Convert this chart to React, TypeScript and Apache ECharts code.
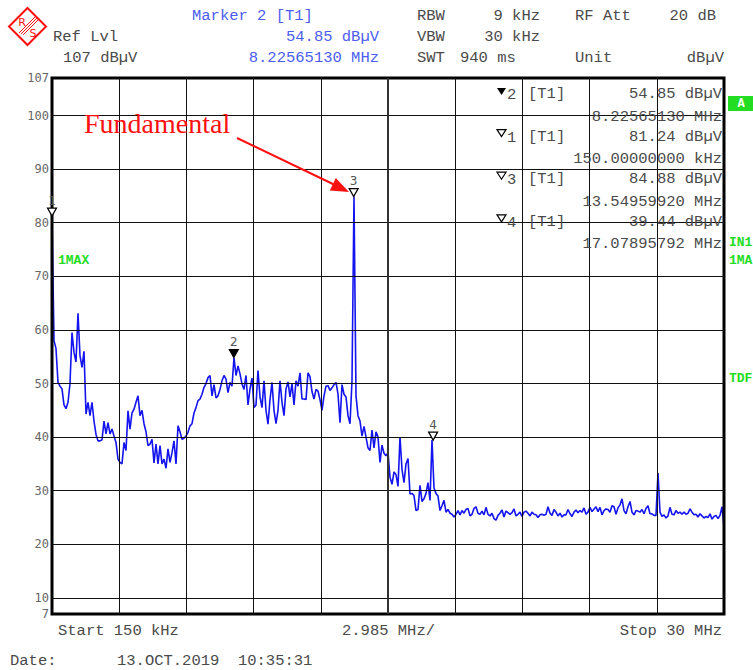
import React, { useEffect, useRef } from "react";
import * as echarts from "echarts";

// ---- axis / sweep settings ----
const START_MHZ = 0.15;
const STOP_MHZ = 30;
const REF_LEVEL = 107;
const BOTTOM_LEVEL = 7;
const Y_TICK_LABELS = [7, 10, 20, 30, 40, 50, 60, 70, 80, 90, 100, 107];
const H_GRID_LEVELS = [10, 20, 30, 40, 50, 60, 70, 80, 90, 100];
const V_GRID_DIVS = [1, 2, 3, 4, 5, 6, 7, 8, 9];
const N_DIVS = 10;

// ---- trace (dBuV), one value per sweep point ----
const TRACE_DBUV = [
  81.24, 58, 56.5, 50.2, 49.5, 49, 46, 45.3, 46.5, 50,
  59.5, 55.8, 54, 63.1, 55.2, 53, 56, 44.3, 46.5, 44,
  46.5, 43, 40.5, 39.3, 39.3, 39.5, 43, 40.6, 42.7, 40.6,
  41.5, 40.2, 39, 35.9, 35.3, 35, 39, 37.5, 44.9, 41.5,
  44.5, 45.2, 46.5, 47.7, 44, 45, 42.5, 41, 38.4, 38.7,
  39.6, 35.2, 38.7, 35, 38.4, 35, 35.9, 34.2, 37.8, 35.3,
  37.1, 39.3, 35, 42.1, 41, 39.6, 39.8, 40.2, 40.9, 42.1,
  42.5, 44.5, 45.5, 46.8, 47.1, 48, 49.3, 50, 51.1, 51.5,
  47.7, 49.8, 47.3, 47.7, 48.9, 50.5, 51.5, 50.8, 48.3, 50.2,
  49.5, 54.85, 51.5, 53.3, 51.8, 49.9, 48.9, 51.5, 46, 49,
  51, 45.5, 46, 52.4, 47.5, 45.5, 50.5, 45, 42.4, 47,
  50.2, 45, 42.5, 45, 50.5, 46.5, 44, 49, 50.3, 47.5,
  50, 46, 50.5, 49.5, 52, 47.1, 47.1, 47, 52, 51.3,
  48.5, 47.1, 48.9, 48.6, 47, 45, 47.7, 49.5, 49.6, 48.7,
  49.2, 49.8, 50.2, 48, 42.7, 49.8, 48, 47.5, 44, 42.5,
  50.5, 84.88, 47.7, 44, 43, 40.2, 42, 40, 38, 37.5,
  41.3, 38, 41, 40, 35.3, 38.5, 37, 36.5, 37.1, 32.5,
  31.2, 33.5, 33, 30.8, 40, 34, 31.5, 35, 36, 29.4,
  29.5, 29.1, 26.3, 26.5, 31, 28, 28.5, 29.5, 31.5, 28.2,
  39.44, 30.5, 29.5, 29, 26.3, 27.2, 28.2, 26, 26.5, 25.8,
  25.6, 25.1, 25.6, 26.3, 25.5, 26.3, 25.8, 26.5, 26.7, 25.3,
  25.6, 26.7, 27, 25.8, 25.6, 26.2, 25.5, 26.9, 25.6, 25.3,
  25.8, 24.8, 24.5, 25.4, 25.8, 26.4, 25.1, 26.2, 25.9, 25.6,
  25.9, 26.6, 25.3, 25.6, 26, 25.2, 26, 26.2, 25.8, 25.3,
  26, 25.6, 25.5, 25, 25.5, 25.6, 25.4, 25.6, 27, 25.8,
  25.4, 26.5, 26, 25.3, 25.8, 25.1, 25.5, 25.5, 26.5, 25.7,
  25.2, 26, 26.4, 25.9, 26.3, 26, 26.8, 25.6, 26, 26.9,
  26.1, 26.6, 27, 26.1, 26.9, 25.5, 26.3, 26.6, 26.5, 26,
  27.2, 27, 25.6, 26.8, 27.35, 28.5, 26.3, 25.7, 27, 28,
  26, 25.5, 26.3, 26.2, 26, 26.5, 25.7, 26.7, 27.2, 25.7,
  25.7, 25.4, 25.4, 33.3, 26, 25.2, 25.5, 24.9, 25.3, 26.9,
  25.6, 25.5, 26.3, 25.8, 26, 25.6, 26, 25.6, 25.8, 26.6,
  26, 25.5, 25.6, 25.1, 25.7, 25.3, 24.9, 25.2, 25, 25.7,
  24.7, 25.2, 25.4, 24.8, 25.4, 27, 23.2,
];

// ---- markers ----
const MARKER_NAMES = ["1", "2", "3", "4"];
const MARKER_FREQ_MHZ = [0.15, 8.2256513, 13.5495992, 17.07895792];
const MARKER_LEVEL_DBUV = [81.24, 54.85, 84.88, 39.44];
const MARKER_ACTIVE = [false, true, false, false];

// ---- marker table texts ----
const TABLE_ORDER = [1, 0, 2, 3];
const TABLE_LEVEL_TEXT = ["81.24 dBµV", "54.85 dBµV", "84.88 dBµV", "39.44 dBµV"];
const TABLE_FREQ_TEXT = ["150.00000000 kHz", "8.22565130 MHz", "13.54959920 MHz", "17.07895792 MHz"];

const MONO = '"Liberation Mono", "DejaVu Sans Mono", monospace';
const GRAY = "#4a4a4a";
const BLUE = "#4b5df0";
const GREEN = "#22dd22";

function txt(text: string, x: number, y: number, opt: any = {}) {
  return {
    type: "text",
    x,
    y,
    z: 100,
    silent: true,
    style: {
      text,
      fill: opt.fill || GRAY,
      font: opt.font || `15.5px ${MONO}`,
      align: opt.align || "left",
      verticalAlign: "middle",
    },
  };
}

export default function App() {
  const ref = useRef<HTMLDivElement>(null);

  useEffect(() => {
    document.body.style.margin = "0";
    if (!ref.current) return;
    const chart = echarts.init(ref.current, null, { renderer: "svg" });

    const n = TRACE_DBUV.length;
    const step = (STOP_MHZ - START_MHZ) / (n - 1);
    const traceData = TRACE_DBUV.map((v, i) => [START_MHZ + i * step, v]);
    const divW = (STOP_MHZ - START_MHZ) / N_DIVS;

    const gridLines: any[] = [
      ...H_GRID_LEVELS.map((l) => ({ yAxis: l })),
      ...V_GRID_DIVS.map((k) => ({
        xAxis: START_MHZ + k * divW,
        lineStyle: k === 5 ? { width: 2, color: "#333" } : undefined,
      })),
    ];

    const graphics: any[] = [];
    // logo
    graphics.push({
      type: "polygon",
      z: 100,
      silent: true,
      shape: { points: [[27.5, 8], [46, 26.5], [27.5, 45], [9, 26.5]] },
      style: { fill: "#fff", stroke: "#ff1010", lineWidth: 2 },
    });
    [0, 3, 6].forEach((o) => {
      graphics.push({
        type: "line",
        z: 100,
        silent: true,
        shape: { x1: 19 + o * 0.7, y1: 33 - o * 0.7 + o, x2: 35 + o * 0.7, y2: 17 - o * 0.7 + o },
        style: { stroke: "#ff1010", lineWidth: 1 },
      });
    });
    graphics.push(txt("R", 22, 22, { fill: "#ff1010", font: '11px "DejaVu Sans", sans-serif', align: "center" }));
    graphics.push(txt("S", 33, 33, { fill: "#ff1010", font: '11px "DejaVu Sans", sans-serif', align: "center" }));

    // header
    graphics.push(txt("Marker 2 [T1]", 192, 16, { fill: BLUE }));
    graphics.push(txt("RBW", 417, 16));
    graphics.push(txt("9 kHz", 540, 16, { align: "right" }));
    graphics.push(txt("RF Att", 575, 16));
    graphics.push(txt("20 dB", 716, 16, { align: "right" }));
    graphics.push(txt("Ref Lvl", 53, 37));
    graphics.push(txt("54.85 dBµV", 379, 37, { fill: BLUE, align: "right" }));
    graphics.push(txt("VBW", 417, 37));
    graphics.push(txt("30 kHz", 540, 37, { align: "right" }));
    graphics.push(txt("107 dBµV", 63, 58));
    graphics.push(txt("8.22565130 MHz", 379, 58, { fill: BLUE, align: "right" }));
    graphics.push(txt("SWT", 417, 58));
    graphics.push(txt("940 ms", 460, 58));
    graphics.push(txt("Unit", 575, 58));
    graphics.push(txt("dBµV", 724, 58, { align: "right" }));

    // marker table
    const rowY0 = 94;
    const rowStep = 42.6;
    TABLE_ORDER.forEach((m, r) => {
      const cy = rowY0 + r * rowStep;
      const filled = MARKER_ACTIVE[m];
      graphics.push({
        type: "polygon",
        z: 100,
        silent: true,
        shape: filled
          ? { points: [[497, cy - 6], [506, cy - 6], [501.5, cy + 1]] }
          : { points: [[497, cy - 7], [506, cy - 7], [501.5, cy]] },
        style: filled ? { fill: "#000" } : { fill: "#fff", stroke: "#000", lineWidth: 1.2 },
      });
      graphics.push(txt(MARKER_NAMES[m], 507, cy + 1));
      graphics.push(txt("[T1]", 528, cy));
      graphics.push(txt(TABLE_LEVEL_TEXT[m], 722, cy, { align: "right" }));
      graphics.push(txt(TABLE_FREQ_TEXT[m], 722, cy + 22.5, { align: "right" }));
    });

    // right side status
    graphics.push({
      type: "rect",
      z: 100,
      silent: true,
      shape: { x: 728, y: 96, width: 26, height: 15 },
      style: { fill: GREEN },
    });
    graphics.push(txt("A", 741, 104, { fill: "#fff", font: `bold 12px ${MONO}`, align: "center" }));
    graphics.push(txt("IN1", 729, 242, { fill: GREEN, font: `bold 13px ${MONO}` }));
    graphics.push(txt("1MA", 729, 260, { fill: GREEN, font: `bold 13px ${MONO}` }));
    graphics.push(txt("TDF", 729, 378, { fill: GREEN, font: `bold 13px ${MONO}` }));
    graphics.push(txt("1MAX", 58, 260, { fill: GREEN, font: `bold 13px ${MONO}` }));

    // annotation
    graphics.push(txt("Fundamental", 84, 123, { fill: "#ff1010", font: '28px "Liberation Serif", serif' }));
    graphics.push({
      type: "line",
      z: 100,
      silent: true,
      shape: { x1: 237, y1: 138, x2: 336, y2: 185.5 },
      style: { stroke: "#ff1010", lineWidth: 2 },
    });
    graphics.push({
      type: "polygon",
      z: 100,
      silent: true,
      shape: { points: [[349, 192], [329.8, 190.5], [335.8, 177.9]] },
      style: { fill: "#ff1010" },
    });

    // bottom
    graphics.push(txt("Start 150 kHz", 58, 631));
    graphics.push(txt("2.985 MHz/", 342, 631));
    graphics.push(txt("Stop 30 MHz", 722, 631, { align: "right" }));
    graphics.push(txt("Date:", 10, 661));
    graphics.push(txt("13.OCT.2019  10:35:31", 117, 661));

    chart.setOption({
      animation: false,
      backgroundColor: "#fff",
      grid: {
        left: 52,
        top: 78,
        width: 672,
        height: 536,
        show: true,
        borderColor: "#000",
        borderWidth: 3,
        backgroundColor: "transparent",
        z: 5,
      },
      xAxis: {
        type: "value",
        min: START_MHZ,
        max: STOP_MHZ,
        axisLabel: { show: false },
        axisLine: { show: false },
        axisTick: { show: false },
        splitLine: { show: false },
      },
      yAxis: {
        type: "value",
        min: BOTTOM_LEVEL,
        max: REF_LEVEL,
        axisLine: { show: false },
        axisTick: { show: false },
        splitLine: { show: false },
        axisLabel: {
          customValues: Y_TICK_LABELS,
          color: "#666",
          fontFamily: '"DejaVu Sans Mono", monospace',
          fontSize: 12,
          margin: 3,
        },
      },
      graphic: graphics,
      series: [
        {
          type: "line",
          name: "grid",
          data: [],
          z: 1,
          silent: true,
          markLine: {
            silent: true,
            symbol: "none",
            animation: false,
            label: { show: false },
            lineStyle: { color: "#111", width: 1, type: "solid" },
            data: gridLines,
          },
        },
        {
          type: "line",
          name: "trace",
          data: traceData,
          z: 3,
          showSymbol: false,
          symbol: "none",
          lineStyle: { color: "#1414f0", width: 1.6 },
          markPoint: {
            symbol: "path://M0,0L10,0L5,9Z",
            symbolSize: [9, 8],
            symbolOffset: [0, -4],
            label: {
              show: true,
              position: "top",
              distance: 1,
              color: "#555",
              fontSize: 12,
              fontFamily: '"DejaVu Sans", sans-serif',
              formatter: (p: any) => p.name,
            },
            data: MARKER_NAMES.map((nm, k) => ({
              name: nm,
              coord: [MARKER_FREQ_MHZ[k], MARKER_LEVEL_DBUV[k]],
              itemStyle: {
                color: MARKER_ACTIVE[k] ? "#000" : "#fff",
                borderColor: "#000",
                borderWidth: 1.2,
              },
            })),
          },
        },
      ],
    });

    return () => chart.dispose();
  }, []);

  return <div ref={ref} style={{ width: 753, height: 670 }} />;
}
